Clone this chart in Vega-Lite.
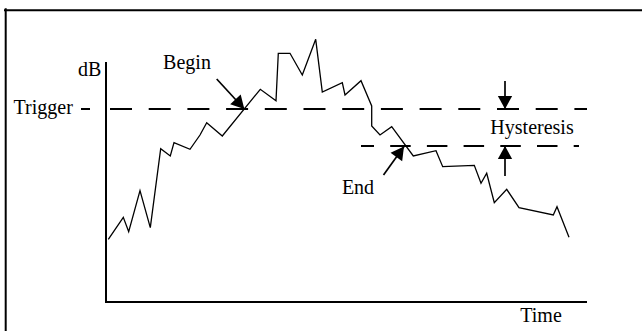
{
  "$schema": "https://vega.github.io/schema/vega-lite/v6.json",
  "width": 642,
  "height": 331,
  "padding": 0,
  "autosize": {"type": "none"},
  "background": "white",
  "config": {"view": {"stroke": null}},
  "datasets": {
    "frame": [
      {"t": -101, "v": 291.7, "t2": 545, "v2": 291.7},
      {"t": -100.3, "v": 292.7, "t2": -100.3, "v2": -40}
    ],
    "axes": [
      {"t": 0, "v": 239, "t2": 0, "v2": 0},
      {"t": 0, "v": 0, "t2": 480, "v2": 0}
    ],
    "marker": [
      {"t": -25, "v": 193, "t2": -16, "v2": 193}
    ],
    "trigger": [
      {"t": 4, "v": 193, "t2": 481, "v2": 193}
    ],
    "release": [
      {"t": 255, "v": 156, "t2": 473, "v2": 156}
    ],
    "signal": [
      {"i": 0, "t": 2.3, "v": 62.7},
      {"i": 1, "t": 17.3, "v": 84.7},
      {"i": 2, "t": 22.7, "v": 70.3},
      {"i": 3, "t": 34, "v": 111.3},
      {"i": 4, "t": 44.3, "v": 74.3},
      {"i": 5, "t": 54.7, "v": 153.3},
      {"i": 6, "t": 64.3, "v": 146},
      {"i": 7, "t": 68, "v": 159.3},
      {"i": 8, "t": 84, "v": 152.7},
      {"i": 9, "t": 94, "v": 167},
      {"i": 10, "t": 100.7, "v": 179.3},
      {"i": 11, "t": 116.3, "v": 166},
      {"i": 12, "t": 154.3, "v": 212.7},
      {"i": 13, "t": 170, "v": 201.3},
      {"i": 14, "t": 172.3, "v": 248.7},
      {"i": 15, "t": 184, "v": 248.7},
      {"i": 16, "t": 196.3, "v": 227},
      {"i": 17, "t": 209.7, "v": 262.7},
      {"i": 18, "t": 216.3, "v": 210},
      {"i": 19, "t": 236.3, "v": 219.3},
      {"i": 20, "t": 239, "v": 207},
      {"i": 21, "t": 255, "v": 221.3},
      {"i": 22, "t": 265.7, "v": 196},
      {"i": 23, "t": 265.7, "v": 176},
      {"i": 24, "t": 274, "v": 167},
      {"i": 25, "t": 285.7, "v": 175.3},
      {"i": 26, "t": 307.3, "v": 146},
      {"i": 27, "t": 330, "v": 151.3},
      {"i": 28, "t": 336.7, "v": 135.3},
      {"i": 29, "t": 368.3, "v": 136.7},
      {"i": 30, "t": 375, "v": 118.7},
      {"i": 31, "t": 380.7, "v": 128.7},
      {"i": 32, "t": 388.3, "v": 99.3},
      {"i": 33, "t": 400.7, "v": 112.7},
      {"i": 34, "t": 413, "v": 94.3},
      {"i": 35, "t": 447.3, "v": 87},
      {"i": 36, "t": 451, "v": 95.3},
      {"i": 37, "t": 463, "v": 64.7}
    ],
    "arrows": [
      {"name": "Begin", "t": 110.7, "v": 223, "t2": 138.3, "v2": 193, "dir": 137},
      {"name": "Hysteresis top", "t": 399, "v": 221, "t2": 399, "v2": 193, "dir": 180},
      {"name": "Hysteresis bottom", "t": 399, "v": 126, "t2": 399, "v2": 156, "dir": 0},
      {"name": "End", "t": 277.5, "v": 127, "t2": 298, "v2": 155.5, "dir": 36}
    ],
    "labels": [
      {"label": "dB", "t": -16.3, "v": 226},
      {"label": "Trigger", "t": -62.8, "v": 188},
      {"label": "Begin", "t": 81, "v": 232.7},
      {"label": "Hysteresis", "t": 426, "v": 167.8},
      {"label": "End", "t": 252, "v": 108},
      {"label": "Time", "t": 435, "v": -19.7}
    ]
  },
  "encoding": {
    "x": {"field": "t", "type": "quantitative", "scale": {"domain": [-106, 536], "nice": false, "zero": false}, "axis": null},
    "y": {"field": "v", "type": "quantitative", "scale": {"domain": [-29, 302], "nice": false, "zero": false}, "axis": null}
  },
  "layer": [
    {
      "data": {"name": "frame"},
      "mark": {"type": "rule", "color": "black", "strokeWidth": 2, "strokeCap": "square"},
      "encoding": {"x2": {"field": "t2"}, "y2": {"field": "v2"}}
    },
    {
      "data": {"name": "axes"},
      "mark": {"type": "rule", "color": "black", "strokeWidth": 2, "strokeCap": "square"},
      "encoding": {"x2": {"field": "t2"}, "y2": {"field": "v2"}}
    },
    {
      "data": {"name": "marker"},
      "mark": {"type": "rule", "color": "black", "strokeWidth": 2},
      "encoding": {"x2": {"field": "t2"}, "y2": {"field": "v2"}}
    },
    {
      "data": {"name": "trigger"},
      "mark": {"type": "rule", "color": "black", "strokeWidth": 2, "strokeDash": [22, 16.7]},
      "encoding": {"x2": {"field": "t2"}, "y2": {"field": "v2"}}
    },
    {
      "data": {"name": "release"},
      "mark": {"type": "rule", "color": "black", "strokeWidth": 2, "strokeDash": [20.5, 16.2], "strokeDashOffset": 7.5},
      "encoding": {"x2": {"field": "t2"}, "y2": {"field": "v2"}}
    },
    {
      "data": {"name": "signal"},
      "mark": {"type": "line", "color": "black", "strokeWidth": 1.3},
      "encoding": {"order": {"field": "i", "type": "quantitative"}}
    },
    {
      "data": {"name": "arrows"},
      "mark": {"type": "rule", "color": "black", "strokeWidth": 1.7},
      "encoding": {"x2": {"field": "t2"}, "y2": {"field": "v2"}}
    },
    {
      "data": {"name": "arrows"},
      "mark": {"type": "point", "filled": true, "color": "black", "opacity": 1, "strokeWidth": 0, "shape": "M0,0L-0.55,1L0.55,1Z", "size": 676},
      "encoding": {
        "x": {"field": "t2", "type": "quantitative"},
        "y": {"field": "v2", "type": "quantitative"},
        "angle": {"field": "dir", "type": "quantitative", "scale": null}
      }
    },
    {
      "data": {"name": "labels"},
      "mark": {"type": "text", "font": "Liberation Serif", "fontSize": 20, "align": "center", "baseline": "alphabetic", "color": "black"},
      "encoding": {"text": {"field": "label"}}
    }
  ]
}
